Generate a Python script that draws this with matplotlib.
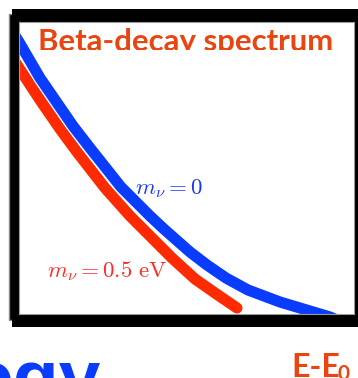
import matplotlib
matplotlib.use("Agg")
import matplotlib.pyplot as plt
import matplotlib.patheffects as pe
from matplotlib.patches import Rectangle
from matplotlib.transforms import Bbox

plt.rcParams['mathtext.fontset'] = 'cm'

# spectrum near the endpoint (arbitrary units)
energy_m0 = [-9, 0, 21, 54, 71, 102, 131, 146, 171, 188, 207, 229, 261, 281, 311, 325]
rate_m0 = [286, 272, 236, 188, 166, 127, 98, 84, 62, 49, 36, 24, 12, 6, -3, -9]

energy_m05 = [-9, 0, 21, 41, 58, 86, 111, 131, 153, 176, 196, 218]
rate_m05 = [260, 246, 214, 185, 162, 126, 98, 78, 56, 35, 21, 6]

title = "Beta-decay spectrum"
label_m0 = r"$m_\nu = 0$"
label_m05 = r"$m_\nu = 0.5\ \mathrm{eV}$"

W, H = 358, 378
fig = plt.figure(figsize=(W / 100, H / 100), dpi=100)


def fx(x):
    return x / W


def fy(y):
    return (H - y) / H


# heavy black frame behind the plot
fig.patches.append(Rectangle((9, H - 320), 360, 306, transform=None,
                             facecolor='black', edgecolor='#888888',
                             linewidth=1, zorder=-2))
fig.patches.append(Rectangle((12, H - 327), 360, 318, transform=None,
                             facecolor='black', edgecolor='none', zorder=-1))

ax = fig.add_axes([fx(19), fy(314), (354 - 19) / W, (314 - 22) / H])
ax.set_xlim(0, 335)
ax.set_ylim(0, 292)
ax.set_xticks([])
ax.set_yticks([])
for s in ax.spines.values():
    s.set_color('#9a9a9a')
    s.set_linewidth(0.8)

lw = 8
ax.plot(energy_m05, rate_m05, color='#ff2a00', lw=lw,
        solid_capstyle='round', solid_joinstyle='round')
ax.plot(energy_m0, rate_m0, color='#0a3cff', lw=lw,
        solid_capstyle='butt', solid_joinstyle='round',
        path_effects=[pe.Stroke(linewidth=lw + 1.5, foreground='white'),
                      pe.Normal()])

fig.text(fx(135), fy(194), label_m0, color='#1a36ff', fontsize=16.5,
         va='baseline', ha='left')
fig.text(fx(47), fy(277), label_m05, color='#ff2a2a', fontsize=16.5,
         va='baseline', ha='left')

t = fig.text(fx(186), fy(51), title, color='#e84510', fontsize=22.4,
             fontweight='bold', family='Lato', ha='center', va='baseline')
t.set_clip_box(Bbox.from_extents(0, H - 50, W, H))
t.set_clip_on(True)

fig.text(fx(291), fy(377), "E-E", color='#e84510', fontsize=23,
         fontweight='bold', family='Lato', ha='left', va='baseline')
fig.text(fx(337), fy(380), "0", color='#e84510', fontsize=15,
         fontweight='bold', family='Lato', ha='left', va='baseline')

fig.text(fx(-33), fy(402), "ogy", color='#0a3cff', fontsize=54,
         fontweight='bold', family='Liberation Sans', ha='left',
         va='baseline')

fig.savefig("out.png", dpi=100)
